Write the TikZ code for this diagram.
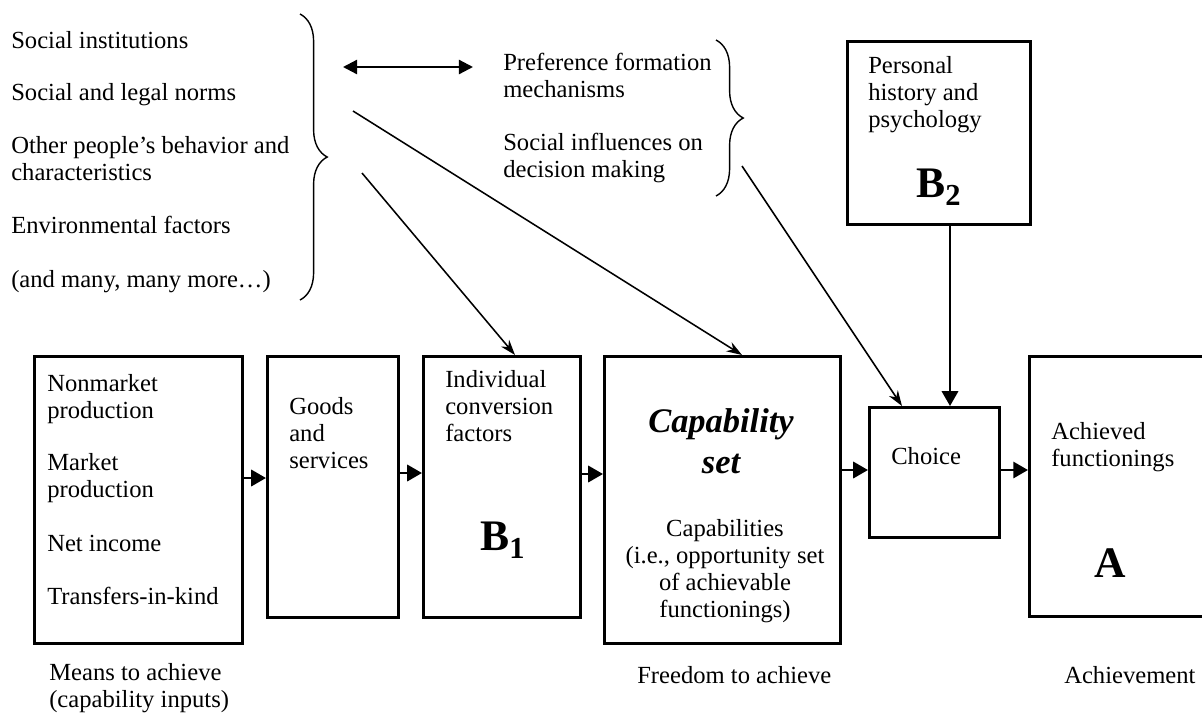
\documentclass[tikz,border=0pt]{standalone}
\usepackage{amsmath}
\usepackage{fontspec}
\setmainfont{Liberation Serif}
\usetikzlibrary{arrows.meta,decorations.pathreplacing}

\begin{document}
\begin{tikzpicture}[x=0.025cm,y=-0.025cm,
	txt/.style={inner sep=0pt,anchor=base west,align=left,font=\fontsize{17.5}{19}\selectfont},
	ctxt/.style={txt,anchor=base,align=center},
	big/.style={inner sep=0pt,anchor=base west,font=\fontsize{31}{31}\selectfont\bfseries},
	blk/.style 2 args={draw,line width=1.8pt,inner sep=0pt,anchor=north west,
		minimum width=#1*0.025cm,minimum height=#2*0.025cm},
	harrow/.style={line width=2pt,-{Triangle[length=10.5pt,width=11.5pt]}},
	darrow/.style={line width=1.1pt,-{Stealth[length=11pt,width=7.5pt]}},
	brc/.style={decorate,decoration={brace,amplitude=0.68cm},line width=1pt}]
			\useasboundingbox (0,0) rectangle (1202,713);
			
			\node[blk={208}{287}] (means) at (33,355) {};
			\node[blk={131}{261}] (goods) at (266,355) {};
			\node[blk={157}{261}] (convf) at (422,355) {};
			\node[blk={236}{287}] (capset) at (603,355) {};
			\node[blk={130}{130}] (choice) at (868,406) {};
			\node[blk={200}{260}] (achv) at (1028,355) {};
			\node[blk={183}{183}] (pers) at (846,40) {};
			
			% multi-line nodes sit on the baseline of their last line
			\node[txt] (si) at (11,48) {Social institutions};
			\node[txt] (sln) at (11,100) {Social and legal norms};
			\node[txt] (opb) at (11,180) {Other people’s behavior and\\characteristics};
			\node[txt] (envf) at (11,233) {Environmental factors};
			\node[txt] (more) at (11,287) {(and many, many more\ldots)};
			\draw[brc] (300,14) -- (300,300);
			
			\node[txt] (pfm) at (503,97) {Preference formation\\mechanisms};
			\node[txt] (sid) at (503,177) {Social influences on\\decision making};
			\draw[brc] (716,40) -- (716,196);
			
			\node[txt] (phist) at (868,127) {Personal\\history and\\psychology};
			\node[big] (btwo) at (916,197) {B$_{\textbf{2}}$};
			
			\node[txt] (nmp) at (47,418) {Nonmarket\\production};
			\node[txt] (mp) at (47,497) {Market\\production};
			\node[txt] (ni) at (47,551) {Net income};
			\node[txt] (tik) at (47,604) {Transfers-in-kind};
			\node[txt] (gs) at (289,468) {Goods\\and\\services};
			\node[txt] (icf) at (445,441) {Individual\\conversion\\factors};
			\node[big] (bone) at (480,550) {B$_{\textbf{1}}$};
			\node[ctxt,font=\fontsize{24.5}{29}\selectfont\bfseries\itshape] (cs) at (721,473) {Capability\\set};
			\node[ctxt] (caps) at (725,617) {Capabilities\\(i.e., opportunity set\\of achievable\\functionings)};
			\node[txt] (ch) at (891,464) {Choice};
			\node[txt] (af) at (1051,466) {Achieved\\functionings};
			\node[big,anchor=base] (aa) at (1110,577) {A};
			
			\node[txt] (mta) at (49,707) {Means to achieve\\(capability inputs)};
			\node[txt] (fta) at (637,683) {Freedom to achieve};
			\node[txt] (ach) at (1064,683) {Achievement};
			
			\draw[harrow] (means.east |- 0,478) -- (goods.west |- 0,478);
			\draw[harrow] (goods.east |- 0,473) -- (convf.west |- 0,473);
			\draw[harrow] (convf.east |- 0,474) -- (capset.west |- 0,474);
			\draw[harrow] (capset.east |- 0,470) -- (choice.west |- 0,470);
			\draw[harrow] (choice.east |- 0,470) -- (achv.west |- 0,470);
			
			\coordinate (v) at (950,0);
			\draw[harrow,line width=1.8pt] (pers.south -| v) -- (choice.north -| v);
			
			\coordinate (dl) at (343,67);
			\coordinate (dr) at (473,67);
			\draw[line width=1.6pt,{Triangle[length=10pt,width=10pt]}-{Triangle[length=10pt,width=10pt]}] (dl) -- (dr);
			
			\coordinate (s1) at (353,111);
			\coordinate (s2) at (362,173);
			\coordinate (s3) at (742,166);
			\coordinate (t1) at (742,0);
			\coordinate (t2) at (515,0);
			\coordinate (t3) at (902,0);
			\draw[darrow] (s1) -- (capset.north -| t1);
			\draw[darrow] (s2) -- (convf.north -| t2);
			\draw[darrow] (s3) -- (choice.north -| t3);
		\end{tikzpicture}
\end{document}
